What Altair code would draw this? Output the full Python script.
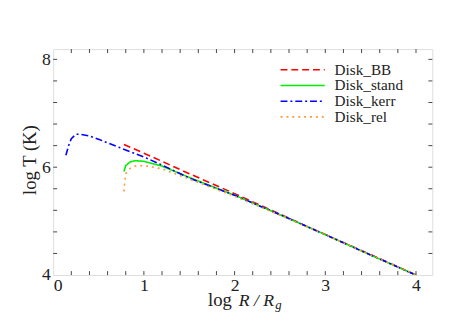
import altair as alt
import pandas as pd

# ---- data ----
series = ["Disk_BB", "Disk_stand", "Disk_kerr", "Disk_rel"]
colors = ["#ff0000", "#00ee00", "#0000ff", "#ff9933"]
dashes = [[7, 4], [1, 0], [7, 3, 2, 3], [2, 4]]

bb_x = [0.78, 1.0, 1.5, 2.0, 2.5, 3.0, 3.5, 4.0]
bb_y = [6.42, 6.26, 5.88, 5.51, 5.13, 4.75, 4.38, 4.0]

stand_x = [0.78, 0.80, 0.85, 0.90, 1.0, 1.2, 1.5, 2.0, 2.5, 3.0, 3.5, 4.0]
stand_y = [5.92, 6.03, 6.10, 6.12, 6.11, 6.02, 5.81, 5.48, 5.12, 4.75, 4.37, 4.0]

kerr_x = [0.14, 0.17, 0.20, 0.25, 0.30, 0.40, 0.50, 0.60, 0.80, 1.0, 1.2, 1.5, 2.0, 2.5, 3.0, 3.5, 4.0]
kerr_y = [6.22, 6.40, 6.53, 6.61, 6.61, 6.58, 6.52, 6.45, 6.32, 6.19, 6.04, 5.80, 5.48, 5.12, 4.75, 4.37, 4.0]

rel_x = [0.78, 0.79, 0.80, 0.85, 0.90, 1.0, 1.2, 1.5, 2.0, 2.5, 3.0, 3.5, 4.0]
rel_y = [5.55, 5.75, 5.88, 5.98, 6.02, 6.03, 5.97, 5.78, 5.46, 5.11, 4.75, 4.37, 4.0]

x_major = [0, 1, 2, 3, 4]
x_minor = [round(0.2 * i, 1) for i in range(1, 21)]
y_major = [4, 6, 8]
y_minor = [round(4 + 0.4 * i, 1) for i in range(1, 11)]

X_DOM = [0, 4.18]
Y_DOM = [4, 8.19]
W, H = 386, 230
FONT = "Liberation Serif"
INK = "#222"

rows = []
for name, xs_, ys_ in [("Disk_BB", bb_x, bb_y), ("Disk_stand", stand_x, stand_y),
                       ("Disk_kerr", kerr_x, kerr_y), ("Disk_rel", rel_x, rel_y)]:
    for i, (a, b) in enumerate(zip(xs_, ys_)):
        rows.append({"series": name, "x": a, "y": b, "o": i})
df = pd.DataFrame(rows)

xs = alt.Scale(domain=X_DOM, nice=False, zero=False)
ys = alt.Scale(domain=Y_DOM, nice=False, zero=False)
cscale = alt.Scale(domain=series, range=colors)
dscale = alt.Scale(domain=series, range=dashes)

lines = alt.Chart(df).mark_line(strokeWidth=1.6, clip=True).encode(
    x=alt.X("x:Q", scale=xs, axis=alt.Axis(values=x_major, format="d", title=None, labelPadding=2)),
    y=alt.Y("y:Q", scale=ys, axis=alt.Axis(values=y_major, format="d", title=None, labelPadding=3)),
    color=alt.Color("series:N", scale=cscale, legend=None),
    strokeDash=alt.StrokeDash("series:N", scale=dscale, legend=None),
    order="o:Q",
)

# manual legend (inside top-right)
leg = pd.DataFrame({"series": series})
leg_base = alt.Chart(leg).transform_window(idx="row_number()").transform_calculate(
    py="5 + 16 * datum.idx")
leg_lines = leg_base.mark_rule(strokeWidth=1.6).encode(
    x=alt.value(231.5), x2=alt.value(276.5),
    y=alt.Y("py:Q", scale=None),
    color=alt.Color("series:N", scale=cscale, legend=None),
    strokeDash=alt.StrokeDash("series:N", scale=dscale, legend=None),
)
leg_text = leg_base.mark_text(font=FONT, fontSize=15.5, color=INK, align="left", baseline="middle").encode(
    x=alt.value(286.5), y=alt.Y("py:Q", scale=None), text="series:N")

xt = pd.DataFrame({"v": x_minor})
yt = pd.DataFrame({"v": y_minor})
tick_col = "#444"
bx = alt.Chart(xt).mark_rule(color=tick_col, strokeWidth=1).encode(x=alt.X("v:Q", scale=xs), y=alt.value(H), y2=alt.value(H - 4))
tx = alt.Chart(xt).mark_rule(color=tick_col, strokeWidth=1).encode(x=alt.X("v:Q", scale=xs), y=alt.value(0), y2=alt.value(4))
ly = alt.Chart(yt).mark_rule(color=tick_col, strokeWidth=1).encode(y=alt.Y("v:Q", scale=ys), x=alt.value(0), x2=alt.value(4))
ry = alt.Chart(yt).mark_rule(color=tick_col, strokeWidth=1).encode(y=alt.Y("v:Q", scale=ys), x=alt.value(W), x2=alt.value(W - 4))

ytitle = alt.Chart(pd.DataFrame({"t": ["log T (K)"]})).mark_text(
    font=FONT, fontSize=19, angle=270, color=INK).encode(
    text="t:N", x=alt.value(-24), y=alt.value(H / 2 - 2))

xt1 = alt.Chart(pd.DataFrame({"t": ["log"]})).mark_text(
    font=FONT, fontSize=19, color=INK, align="right", baseline="alphabetic").encode(
    text="t:N", x=alt.value(182), y=alt.value(H + 32))
xt2 = alt.Chart(pd.DataFrame({"t": ["R / R"]})).mark_text(
    font=FONT, fontSize=18, fontStyle="italic", color=INK, align="left", baseline="alphabetic").encode(
    text="t:N", x=alt.value(189), y=alt.value(H + 32))
xt3 = alt.Chart(pd.DataFrame({"t": ["g"]})).mark_text(
    font=FONT, fontSize=13, fontStyle="italic", color=INK, align="left", baseline="alphabetic").encode(
    text="t:N", x=alt.value(226), y=alt.value(H + 35))

chart = alt.layer(lines, bx, tx, ly, ry, leg_lines, leg_text, ytitle, xt1, xt2, xt3).properties(
    width=W, height=H,
    autosize=alt.AutoSizeParams(type="none"),
    padding={"left": 46, "top": 39, "right": 18, "bottom": 47},
).configure_view(stroke="#333", strokeWidth=1.2).configure(background="white").configure_axis(
    ticks=False, grid=False, domain=False, labelFont=FONT, labelFontSize=18, labelColor=INK,
)

chart.save("out.html", embed_options={"renderer": "svg", "actions": False})
